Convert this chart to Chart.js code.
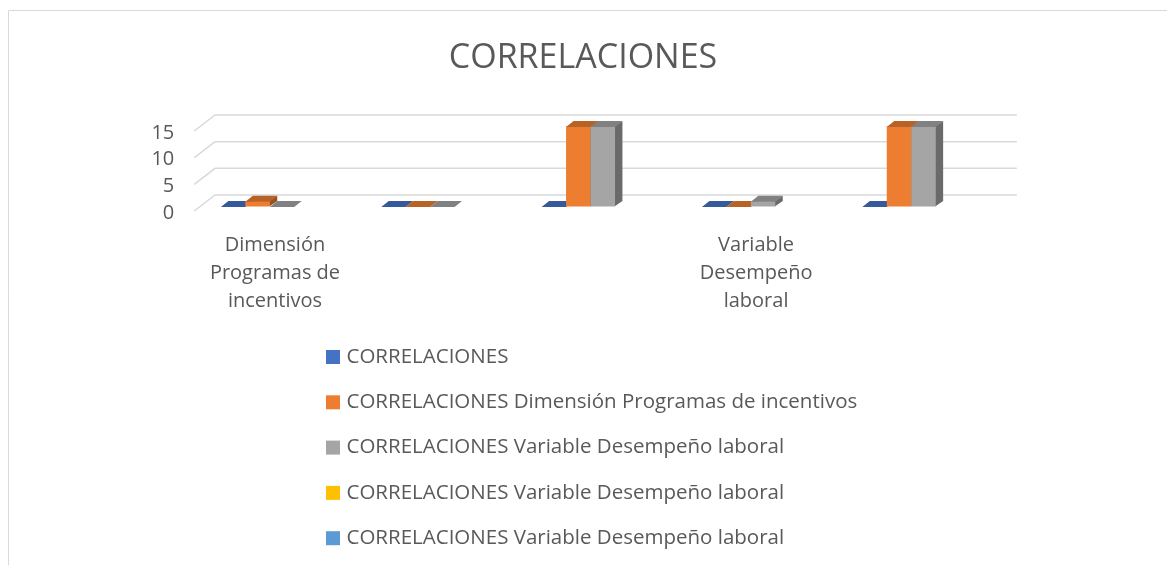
<!DOCTYPE html>
<html><head><meta charset="utf-8">
<script src="https://cdn.jsdelivr.net/npm/chart.js@4/dist/chart.umd.min.js"></script>
<style>html,body{margin:0;padding:0;background:#fff;} #wrap{position:relative;width:1167px;height:565px;}</style>
</head><body><div id="wrap"><canvas id="c" width="1167" height="565"></canvas></div>
<script>
// ---- data ----
const categories = [['Dimensión', 'Programas de', 'incentivos'], '', '', ['Variable', 'Desempeño', 'laboral'], ''];
const seriesNames = [
  'CORRELACIONES',
  'CORRELACIONES Dimensión Programas de incentivos',
  'CORRELACIONES Variable Desempeño laboral',
  'CORRELACIONES Variable Desempeño laboral',
  'CORRELACIONES Variable Desempeño laboral'
];
const seriesBlue = [0, 0, 0, 0, 0];
const seriesOrange = [1, 0, 15, 0, 15];
const seriesGray = [0, 0, 15, 1, 15];
const seriesYellow = [null, null, null, null, null];
const seriesLightBlue = [null, null, null, null, null];
const yTickValues = [0, 5, 10, 15];
const chartTitle = 'CORRELACIONES';

// ---- styles ----
const seriesColors = ['#4472C4', '#ED7D31', '#A5A5A5', '#FFC000', '#5B9BD5'];
const FONT = 'Open Sans';
const TEXT = '#595959';
const DEPTH = {dx: 7.5, dy: -5.5};
const FRONT = {dx: -7.5, dy: 4.5};
const BACK = {dx: 13.2, dy: -11.5};

function shade(hex, f) {
  const n = parseInt(hex.slice(1), 16);
  const r = Math.round(((n >> 16) & 255) * f), g = Math.round(((n >> 8) & 255) * f), b = Math.round((n & 255) * f);
  return `rgb(${r},${g},${b})`;
}

const threeD = {
  id: 'threeD',
  beforeDraw(chart) {
    const ctx = chart.ctx;
    ctx.save();
    ctx.strokeStyle = '#d9d9d9';
    ctx.lineWidth = 1;
    ctx.beginPath();
    ctx.moveTo(8.5, 600);
    ctx.lineTo(8.5, 10.5);
    ctx.lineTo(1200, 10.5);
    ctx.stroke();
    ctx.restore();
  },
  beforeDatasetsDraw(chart) {
    const {ctx, chartArea: a} = chart;
    const y = chart.scales.y;
    ctx.save();
    ctx.strokeStyle = '#d9d9d9';
    ctx.lineWidth = 1.5;
    y.ticks.forEach(t => {
      const py = y.getPixelForValue(t.value);
      ctx.beginPath();
      ctx.moveTo(a.left + FRONT.dx, py + FRONT.dy);
      ctx.lineTo(a.left + BACK.dx, py + BACK.dy);
      ctx.lineTo(a.right + BACK.dx, py + BACK.dy);
      ctx.stroke();
    });
    ctx.restore();
  },
  // draw datasets ourselves (left to right) so the 3D faces overlap correctly
  beforeDatasetDraw() { return false; },
  afterDatasetsDraw(chart) {
    const ctx = chart.ctx;
    chart.data.datasets.forEach((ds, di) => {
      const meta = chart.getDatasetMeta(di);
      const col = ds.backgroundColor;
      meta.data.forEach((el, i) => {
        if (ds.data[i] == null) return;
        const p = el.getProps(['x', 'y', 'base', 'width'], true);
        const l = p.x - p.width / 2, r = p.x + p.width / 2;
        const top = Math.min(p.y, p.base), base = Math.max(p.y, p.base);
        ctx.save();
        if (base - top > 0.1) {
          ctx.fillStyle = shade(col, 0.64);
          ctx.beginPath();
          ctx.moveTo(r - 0.5, top);
          ctx.lineTo(r + DEPTH.dx, top + DEPTH.dy);
          ctx.lineTo(r + DEPTH.dx, base + DEPTH.dy);
          ctx.lineTo(r - 0.5, base);
          ctx.closePath();
          ctx.fill();
        }
        el.draw(ctx, chart.chartArea);
        ctx.fillStyle = shade(col, 0.78);
        ctx.beginPath();
        ctx.moveTo(l, top + 0.5);
        ctx.lineTo(l + DEPTH.dx, top + DEPTH.dy);
        ctx.lineTo(r + DEPTH.dx, top + DEPTH.dy);
        ctx.lineTo(r, top + 0.5);
        ctx.closePath();
        ctx.fill();
        ctx.restore();
      });
    });
  },
  afterDraw(chart) {
    const ctx = chart.ctx;
    ctx.save();
    ctx.font = `20.5px "${FONT}"`;
    ctx.textBaseline = 'middle';
    ctx.textAlign = 'left';
    chart.data.datasets.forEach((ds, i) => {
      const cy = 357 + i * 45.3;
      ctx.fillStyle = ds.backgroundColor;
      ctx.fillRect(326, cy - 7, 14, 14);
      ctx.fillStyle = TEXT;
      ctx.fillText(ds.label, 346.5, cy);
    });
    ctx.restore();
  }
};

const seriesData = [seriesBlue, seriesOrange, seriesGray, seriesYellow, seriesLightBlue];

new Chart(document.getElementById('c'), {
  type: 'bar',
  data: {
    labels: categories,
    datasets: seriesData.map((d, i) => ({
      label: seriesNames[i],
      data: d,
      backgroundColor: seriesColors[i],
      borderWidth: 0,
      categoryPercentage: 0.762,
      barPercentage: 1
    }))
  },
  options: {
    responsive: false,
    animation: false,
    devicePixelRatio: 1,
    layout: {padding: {left: 140, right: 141, top: 0, bottom: 0}},
    plugins: {
      legend: {display: false},
      tooltip: {enabled: false},
      title: {
        display: true,
        text: chartTitle,
        color: TEXT,
        font: {family: FONT, size: 34, weight: 'normal', lineHeight: 1.2},
        padding: {top: 37.85, bottom: 47.85}
      }
    },
    scales: {
      x: {
        grid: {display: false, drawTicks: false},
        border: {display: false},
        ticks: {
          color: TEXT, autoSkip: false, maxRotation: 0, minRotation: 0,
          padding: 24.5, labelOffset: -7,
          font: {family: FONT, size: 20, lineHeight: 1.4}
        },
        afterFit(s) { s.height = 358.5; }
      },
      y: {
        min: 0, max: 15,
        grid: {display: false, drawTicks: false},
        border: {display: false},
        ticks: {
          color: TEXT, padding: 27.5, labelOffset: 6.5, autoSkip: false,
          font: {family: FONT, size: 20}
        },
        afterBuildTicks(s) { s.ticks = yTickValues.map(v => ({value: v})); },
        afterFit(s) { s.width = 61.8; }
      },
      yRight: {
        position: 'right',
        display: true,
        grid: {display: false, drawTicks: false},
        border: {display: false},
        ticks: {display: false},
        afterFit(s) { s.width = 22.4; }
      }
    }
  },
  plugins: [threeD]
});
</script>
</body></html>
